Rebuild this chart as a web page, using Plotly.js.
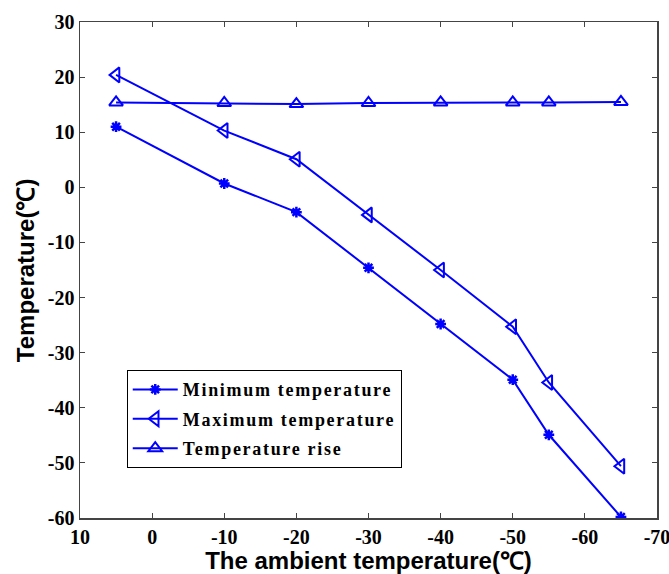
<!DOCTYPE html>
<html><head><meta charset="utf-8">
<script src="https://cdn.plot.ly/plotly-3.0.1.min.js"></script>
<style>html,body{margin:0;padding:0;background:#fff}#c{width:669px;height:574px}
.legendtext{letter-spacing:1.7px}</style>
</head><body><div id="c"></div>
<script>
const ambient = [5, -10, -20, -30, -40, -50, -55, -65];
const minTemp = [11.0, 0.7, -4.5, -14.6, -24.8, -34.9, -44.9, -59.8];
const maxTemp = [20.4, 10.3, 5.1, -5.0, -15.0, -25.3, -35.4, -50.6];
const riseTemp = [15.4, 15.3, 15.1, 15.3, 15.4, 15.4, 15.4, 15.5];
const seriesNames = ["Minimum temperature", "Maximum temperature", "Temperature rise"];
const xTicks = [10, 0, -10, -20, -30, -40, -50, -60, -70];
const yTicks = [30, 20, 10, 0, -10, -20, -30, -40, -50, -60];
const xTitle = 'The ambient temperature(℃)';
const yTitle = 'Temperature(℃)';

const blue = '#0000ff';
const traces = [
  {x: ambient, y: minTemp, name: seriesNames[0], legendgroup: 'a', mode: 'lines+markers',
   line: {color: blue, width: 2},
   marker: {symbol: 'asterisk-open', size: 9, color: blue, line: {color: blue, width: 2.5}}},
  {x: ambient, y: maxTemp, name: seriesNames[1], legendgroup: 'b', mode: 'lines+markers',
   line: {color: blue, width: 2},
   marker: {symbol: 'triangle-left-open', size: 13, color: blue, line: {color: blue, width: 2}}},
  {x: ambient, y: riseTemp, name: seriesNames[2], legendgroup: 'c', mode: 'lines+markers',
   line: {color: blue, width: 2},
   marker: {symbol: 'triangle-up-open', size: 12, color: blue, line: {color: blue, width: 2}}}
];

const tickFont = {family: '"Liberation Serif", "Times New Roman", serif', size: 20, color: '#000', weight: 'bold'};
const layout = {
  width: 669, height: 574,
  margin: {l: 80, r: 12, t: 22, b: 56},
  paper_bgcolor: '#fff', plot_bgcolor: '#fff',
  showlegend: true,
  legend: {x: 0.081, y: 0.298, xanchor: 'left', yanchor: 'top',
    bordercolor: '#000', borderwidth: 1, bgcolor: '#fff',
    itemwidth: 45, tracegroupgap: 3,
    font: {family: '"Liberation Serif", "Times New Roman", serif', size: 18, color: '#000', weight: 'bold'}},
  xaxis: {range: [10, -70], tickvals: xTicks, ticktext: xTicks.map(String),
    ticks: 'inside', ticklen: 5, tickcolor: '#444', showgrid: false, zeroline: false,
    showline: true, linecolor: '#444', linewidth: 1.5, mirror: 'ticks',
    tickfont: tickFont, ticklabeloverflow: 'allow',
    title: {text: xTitle, standoff: 3,
      font: {family: '"Liberation Sans", Arial, sans-serif', size: 24, color: '#000', weight: 'bold'}}},
  yaxis: {range: [-60, 30], tickvals: yTicks, ticktext: yTicks.map(String),
    ticks: 'inside', ticklen: 5, tickcolor: '#444', showgrid: false, zeroline: false,
    showline: true, linecolor: '#444', linewidth: 1.5, mirror: 'ticks',
    tickfont: tickFont, ticklabeloverflow: 'allow'},
  annotations: [{text: yTitle, xref: 'paper', yref: 'paper', x: -0.095, y: 0.5,
    xanchor: 'center', yanchor: 'middle', textangle: -90, showarrow: false,
    font: {family: '"Liberation Sans", Arial, sans-serif', size: 24, color: '#000', weight: 'bold'}}]
};
Plotly.newPlot('c', traces, layout, {displayModeBar: false, staticPlot: true});
</script>
</body></html>
